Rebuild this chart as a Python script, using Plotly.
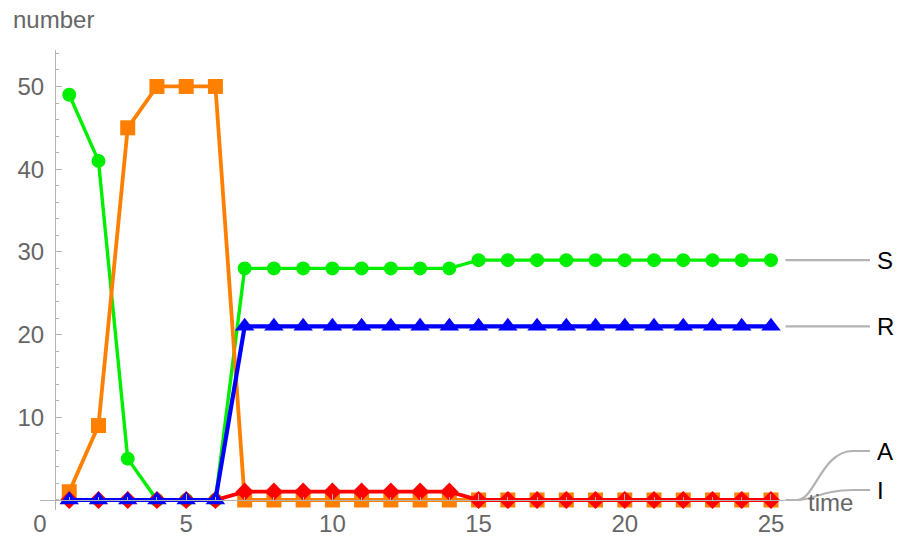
import plotly.graph_objects as go

# ---- data ----
time = list(range(1, 26))
S = [49, 41, 5, 0, 0, 0, 28, 28, 28, 28, 28, 28, 28, 28, 29, 29, 29, 29, 29, 29, 29, 29, 29, 29, 29]
I = [1, 9, 45, 50, 50, 50, 0, 0, 0, 0, 0, 0, 0, 0, 0, 0, 0, 0, 0, 0, 0, 0, 0, 0, 0]
A = [0, 0, 0, 0, 0, 0, 1, 1, 1, 1, 1, 1, 1, 1, 0, 0, 0, 0, 0, 0, 0, 0, 0, 0, 0]
R = [0, 0, 0, 0, 0, 0, 21, 21, 21, 21, 21, 21, 21, 21, 21, 21, 21, 21, 21, 21, 21, 21, 21, 21, 21]
x_ticks = [0, 5, 10, 15, 20, 25]
y_ticks = [10, 20, 30, 40, 50]

W, H = 899, 539
FONT = "Liberation Sans, Arial, sans-serif"


def fx(p):
    """page pixel x -> paper fraction"""
    return p / W


def fy(p):
    """page pixel y -> paper fraction"""
    return 1 - p / H


# axis geometry
X_RANGE = [0, 25.48]
Y_RANGE = [-1.21, 54.41]
DOM_X = [fx(40), fx(785)]
DOM_Y = [fy(510), fy(50)]


def px(xv):
    return DOM_X[0] + (xv - X_RANGE[0]) / (X_RANGE[1] - X_RANGE[0]) * (DOM_X[1] - DOM_X[0])


def py(yv):
    return DOM_Y[0] + (yv - Y_RANGE[0]) / (Y_RANGE[1] - Y_RANGE[0]) * (DOM_Y[1] - DOM_Y[0])


series = [
    ("S", S, "#00ee00", "circle", 14, 3.4),
    ("I", I, "#ff7f00", "square", 15, 3.8),
    ("A", A, "#ff0000", "diamond", 14, 3.8),
    ("R", R, "#0000ff", "triangle-up", 17, 4.2),
]

fig = go.Figure()
for name, vals, col, sym, size, lw in series:
    fig.add_trace(go.Scatter(
        x=time, y=vals, mode="lines+markers", name=name,
        line=dict(color=col, width=lw),
        marker=dict(symbol=sym, size=size, color=col, line=dict(width=0)),
        cliponaxis=False, showlegend=False, hoverinfo="skip",
    ))

gray_line = dict(color="#b3b3b3", width=2.2)
shapes = []
annotations = []

# straight leaders for S and R
x0 = px(25.5)
x1 = fx(870)
for name, vals in (("S", S), ("R", R)):
    yv = py(vals[-1])
    shapes.append(dict(type="line", xref="paper", yref="paper",
                       x0=x0, x1=x1, y0=yv, y1=yv, line=gray_line))
    annotations.append(dict(text=name, xref="paper", yref="paper", x=fx(875), y=yv,
                            xanchor="left", yanchor="middle", showarrow=False,
                            font=dict(family=FONT, size=24, color="black")))

# curved leaders for A and I (both end at 0)
ys = py(A[-1])
xa = fx(797)
xb = fx(853)
for name, ty in (("A", fy(451)), ("I", fy(490))):
    path = (f"M {x0},{ys} L {xa},{ys} "
            f"C {xa + 0.02},{ys} {xb - 0.035},{ty} {xb},{ty} L {x1},{ty}")
    shapes.append(dict(type="path", xref="paper", yref="paper", path=path,
                       line=gray_line))
    annotations.append(dict(text=name, xref="paper", yref="paper", x=fx(875), y=ty,
                            xanchor="left", yanchor="middle", showarrow=False,
                            font=dict(family=FONT, size=24, color="black")))

# axis labels
annotations.append(dict(text="time", xref="paper", yref="paper", x=fx(806), y=fy(502),
                        xanchor="left", yanchor="middle", showarrow=False,
                        font=dict(family=FONT, size=24, color="#666666")))
annotations.append(dict(text="number", xref="paper", yref="paper", x=fx(11), y=fy(20),
                        xanchor="left", yanchor="middle", showarrow=False,
                        font=dict(family=FONT, size=24, color="#666666")))

axis_common = dict(
    showgrid=False, zeroline=False, showline=True, linecolor="#b3b3b3", linewidth=1.2,
    ticks="inside", tickcolor="#b3b3b3", ticklen=6, tickwidth=1,
    tickfont=dict(family=FONT, size=24, color="#666666"),
    automargin=False, fixedrange=True,
)

fig.update_layout(
    width=W, height=H,
    margin=dict(l=0, r=0, t=0, b=0),
    paper_bgcolor="white", plot_bgcolor="white",
    hovermode=False,
    xaxis=dict(domain=DOM_X, range=X_RANGE, anchor="free", position=fy(500),
               tickmode="array", tickvals=x_ticks, ticklabelstandoff=2,
               minor=dict(dtick=1, tick0=0, ticks="inside", ticklen=3, tickcolor="#b3b3b3"),
               **axis_common),
    yaxis=dict(domain=DOM_Y, range=Y_RANGE, anchor="free", position=fx(55),
               tickmode="array", tickvals=y_ticks, ticklabelstandoff=6,
               minor=dict(dtick=2, tick0=0, ticks="inside", ticklen=3, tickcolor="#b3b3b3"),
               **axis_common),
    shapes=shapes, annotations=annotations,
)

fig.write_html(
    "out.html",
    config={"displayModeBar": False, "staticPlot": True},
    post_script="document.body.style.margin='0';document.body.style.overflow='hidden';",
)
